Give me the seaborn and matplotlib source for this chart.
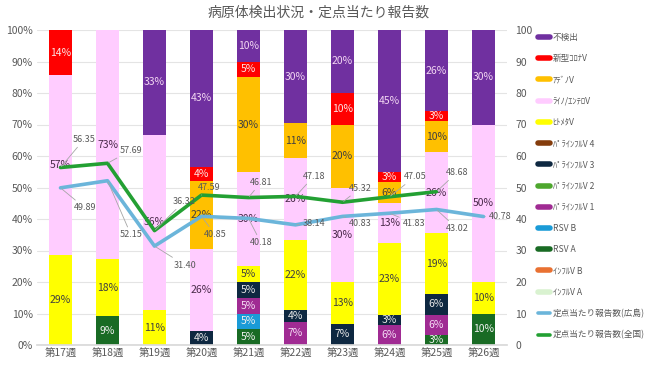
import numpy as np
import matplotlib
matplotlib.use('Agg')
import matplotlib.pyplot as plt
import seaborn as sns
from matplotlib.lines import Line2D

sns.set_theme(style='white')
plt.rcParams['font.family'] = ['Noto Sans CJK JP', 'DejaVu Sans']

weeks = ['第17週', '第18週', '第19週', '第20週', '第21週', '第22週', '第23週', '第24週', '第25週', '第26週']

# share of detections per week (%), stacked bottom -> top
influ_a  = [0, 0, 0, 0, 0, 0, 0, 0, 0, 0]
influ_b  = [0, 0, 0, 0, 0, 0, 0, 0, 0, 0]
rsv_a    = [0, 9.09, 0, 0, 5, 0, 0, 0, 3.23, 10]
rsv_b    = [0, 0, 0, 0, 5, 0, 0, 0, 0, 0]
para1    = [0, 0, 0, 0, 5, 7.41, 0, 6.45, 6.45, 0]
para2    = [0, 0, 0, 0, 0, 0, 0, 0, 0, 0]
para3    = [0, 0, 0, 4.35, 5, 3.70, 6.67, 3.23, 6.45, 0]
para4    = [0, 0, 0, 0, 0, 0, 0, 0, 0, 0]
hmpv     = [28.57, 18.18, 11.11, 0, 5, 22.22, 13.33, 22.58, 19.35, 10]
rhino    = [57.14, 72.73, 55.56, 26.09, 30, 25.93, 30, 12.90, 25.81, 50]
adeno    = [0, 0, 0, 21.74, 30, 11.11, 20, 6.45, 9.68, 0]
covid    = [14.29, 0, 0, 4.35, 5, 0, 10, 3.23, 3.23, 0]
negative = [0, 0, 33.33, 43.48, 10, 29.63, 20, 45.16, 25.81, 30]

# reports per sentinel site
hiroshima = [49.89, 52.15, 31.40, 40.85, 40.18, 38.14, 40.83, 41.83, 43.02, 40.78]
national  = [56.35, 57.69, 36.32, 47.59, 46.81, 47.18, 45.32, 47.05, 48.68, np.nan]

series = [
    ('ｲﾝﾌﾙV A', influ_a, '#D9F2D0', '#333333'),
    ('ｲﾝﾌﾙV B', influ_b, '#E97132', '#333333'),
    ('RSV A', rsv_a, '#196B24', '#F0F0F0'),
    ('RSV B', rsv_b, '#1A9BD7', '#F0F0F0'),
    ('ﾊﾟﾗｲﾝﾌﾙV 1', para1, '#A02B93', '#F5DDF5'),
    ('ﾊﾟﾗｲﾝﾌﾙV 2', para2, '#4EA72E', '#F0F0F0'),
    ('ﾊﾟﾗｲﾝﾌﾙV 3', para3, '#0E2841', '#E8E8E8'),
    ('ﾊﾟﾗｲﾝﾌﾙV 4', para4, '#843C0C', '#F0F0F0'),
    ('ﾋﾄﾒﾀV', hmpv, '#FFFF00', '#404040'),
    ('ﾗｲﾉ/ｴﾝﾃﾛV', rhino, '#FFCCFF', '#4A2A4A'),
    ('ｱﾃﾞﾉV', adeno, '#FFC000', '#404040'),
    ('新型ｺﾛﾅV', covid, '#FF0000', '#FCE4E4'),
    ('不検出', negative, '#7030A0', '#F2D6F2'),
]

c_hiro = '#6BB5DA'
c_nat = '#23A033'

fig = plt.figure(figsize=(6.5, 3.65), dpi=100)
ax = fig.add_axes([37/650, 1-345/365, 470/650, 315/365])
x = np.arange(len(weeks))
bottom = np.zeros(len(weeks))
for name, vals, col, tcol in series:
    vals = np.array(vals, dtype=float)
    ax.bar(x, vals, 0.5, bottom=bottom, color=col, edgecolor='none', zorder=2)
    for i, v in enumerate(vals):
        if v > 0:
            ax.text(x[i], bottom[i] + v/2, f'{v:.0f}%', ha='center', va='center',
                    fontsize=7.5, color=tcol, zorder=5)
    bottom += vals

ax.set_xlim(-0.5, len(weeks) - 0.5)
ax.set_ylim(0, 100)
ax.set_yticks(range(0, 101, 10))
ax.set_yticklabels([f'{t}%' for t in range(0, 101, 10)])
ax.set_xticks(x)
ax.set_xticklabels(weeks)
ax.yaxis.grid(True, color='#E4E4E4', lw=0.8, zorder=0)
ax.set_axisbelow(True)
for s in ['top', 'left', 'right']:
    ax.spines[s].set_visible(False)
ax.spines['bottom'].set_color('#D9D9D9')
ax.tick_params(axis='both', labelsize=7.5, colors='#595959', length=0, pad=3)

ax2 = ax.twinx()
sns.lineplot(x=x, y=hiroshima, ax=ax2, color=c_hiro, lw=2.6, zorder=3)
sns.lineplot(x=x, y=national, ax=ax2, color=c_nat, lw=2.6, zorder=4)
ax2.set_ylim(0, 100)
ax2.set_yticks(range(0, 101, 10))
ax2.tick_params(axis='y', labelsize=7.5, colors='#595959', length=0, pad=6)
for s in ax2.spines.values():
    s.set_visible(False)
ax2.set_ylabel('')

# data labels with leader lines (offsets in pixels)
nat_off = [(12, 28), (12, 13), (18, 29), (-4, 8), (1, 15), (7, 20), (6, 14), (14, 20), (9, 19)]
hiro_off = [(13, -20), (12, -54), (19, -19), (2, -18), (1, -24), (7, 1), (6, -7), (13, -10), (9, -19), (5, 0)]
for vals, offs in [(national, nat_off), (hiroshima, hiro_off)]:
    for i, (dx, dy) in enumerate(offs):
        ax2.annotate(f'{vals[i]:.2f}', (x[i], vals[i]), xytext=(dx, dy),
                     textcoords='offset pixels', ha='left', va='center',
                     fontsize=6.5, color='#595959', zorder=6,
                     arrowprops=dict(arrowstyle='-', color='#A6A6A6', lw=0.6,
                                     shrinkA=0, shrinkB=1))

fig.text(0.49, 1-13/365, '病原体検出状況・定点当たり報告数', ha='center', va='center',
         fontsize=10, color='#595959')

handles = [Line2D([0], [0], color=col, lw=4) for name, vals, col, tcol in series[::-1]]
labels = [name for name, vals, col, tcol in series[::-1]]
handles += [Line2D([0], [0], color=c_hiro, lw=2.6), Line2D([0], [0], color=c_nat, lw=2.6)]
labels += ['定点当たり報告数(広島)', '定点当たり報告数(全国)']
fig.legend(handles, labels, loc='upper left', bbox_to_anchor=(538/650, 1-33/365),
           frameon=False, fontsize=6.2, labelcolor='#595959', handlelength=1.4,
           handletextpad=0.3, labelspacing=1.42, borderaxespad=0, borderpad=0)

fig.savefig('out.png', dpi=100)
